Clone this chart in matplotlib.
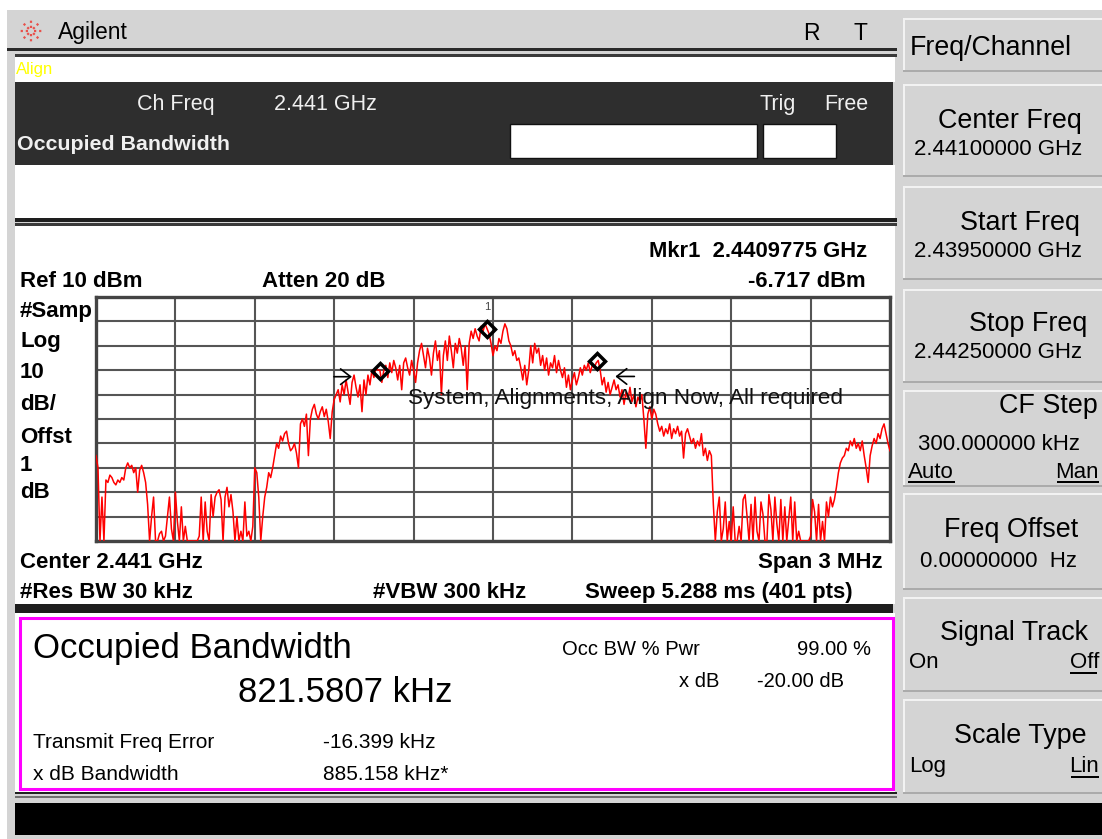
import numpy as np
import matplotlib
matplotlib.use("Agg")
import matplotlib.pyplot as plt
from matplotlib.patches import Rectangle
from matplotlib.transforms import ScaledTranslation

plt.rcParams['font.family'] = ['Liberation Sans', 'DejaVu Sans']

# ---------------- data ----------------
start_ghz = 2.4395
stop_ghz = 2.4425
ref_dbm = 10
db_per_div = 10
n_div = 10
mkr1_ghz = 2.4409775
obw_khz = 821.5807
tx_err_khz = -16.399
center_ghz = 2.441

level_dbm = [
    -55, -60, -90, -72, -90, -65, -66, -63, -64, -66,
    -67, -65, -66, -64, -65, -60, -58, -60, -59, -62,
    -60, -70, -61, -59, -62, -66, -75, -90, -80, -72,
    -90, -90, -87, -86, -90, -88, -80, -72, -85, -90,
    -70, -82, -90, -76, -90, -84, -90, -90, -90, -90,
    -90, -90, -88, -72, -90, -74, -86, -90, -71, -80,
    -72, -70, -69, -73, -90, -72, -68, -76, -71, -78,
    -90, -80, -90, -86, -90, -74, -88, -86, -90, -84,
    -60, -62, -72, -90, -80, -72, -68, -62, -64, -60,
    -55, -50, -52, -47, -49, -46, -45, -50, -53, -52,
    -50, -54, -60, -42, -40, -43, -38, -55, -40, -36,
    -34, -38, -40, -37, -35, -39, -36, -41, -48, -37,
    -32, -30, -28, -33, -26, -30, -24, -29, -34, -25,
    -22, -27, -31, -26, -37, -24, -30, -22, -26, -20,
    -23, -19, -20, -20, -25, -20, -18, -23, -17, -21,
    -16, -19, -24, -18, -28, -17, -15, -19, -22, -16,
    -20, -25, -17, -12, -9, -14, -19, -11, -15, -22,
    -13, -8, -16, -12, -30, -14, -8, -16, -6, -12,
    -19, -9, -13, -7, -11, -18, -10, -28, -9, -4,
    -7, -3, -6, -8, -2, -4, -1, -3, -5, -9,
    -14, -10, -12, -7, -9, -4, -1, -3, -8, -10,
    -14, -12, -16, -15, -19, -24, -18, -26, -20, -10,
    -17, -9, -13, -11, -18, -14, -20, -15, -22, -17,
    -19, -14, -21, -16, -20, -23, -19, -27, -22, -28,
    -24, -21, -26, -23, -19, -22, -18, -20, -17, -21,
    -18, -19, -17, -16, -20, -26, -23, -29, -25, -30,
    -27, -24, -28, -26, -31, -28, -34, -29, -32, -27,
    -33, -30, -35, -31, -33, -30, -40, -52, -38, -35,
    -40, -36, -38, -42, -45, -43, -47, -44, -46, -42,
    -48, -44, -46, -43, -47, -45, -56, -46, -44, -47,
    -50, -48, -52, -49, -51, -46, -55, -52, -57, -53,
    -55, -75, -90, -78, -72, -90, -85, -74, -90, -82,
    -90, -76, -90, -90, -84, -90, -73, -71, -80, -90,
    -75, -90, -72, -86, -90, -74, -79, -90, -90, -71,
    -77, -90, -72, -83, -90, -73, -90, -76, -90, -81,
    -72, -90, -74, -90, -86, -90, -90, -90, -90, -90,
    -88, -73, -78, -90, -75, -90, -82, -90, -74, -80,
    -72, -76, -73, -68, -62, -58, -56, -55, -52, -53,
    -49, -51, -48, -52, -50, -53, -49, -55, -60, -66,
    -55, -51, -48, -50, -46, -48, -44, -42, -46, -50,
    -53,
]

# ---------------- figure ----------------
W, H = 1102, 839
fig = plt.figure(figsize=(W / 100, H / 100), dpi=100)

ui = fig.add_axes([0, 0, 1, 1])
ui.set_xlim(0, W)
ui.set_ylim(H, 0)
ui.axis('off')
ui.set_zorder(-1)


def box(x0, y0, x1, y1, color, **kw):
    ui.add_patch(Rectangle((x0, y0), x1 - x0, y1 - y0, facecolor=color,
                           edgecolor=kw.pop('ec', 'none'), lw=kw.pop('lw', 0), **kw))


def T(x, y, s, size, weight='normal', ha='left', color='black', **kw):
    return fig.text(x / W, 1 - y / H, s, fontsize=size, fontweight=weight,
                    ha=ha, va='baseline', color=color, **kw)


GRAY = '#d4d4d4'
box(0, 0, W, H, 'white')
box(7, 10, W, H, GRAY)

# top bar lines and panels
box(7, 48, 897, 51, '#2a2a2a')
box(15, 54, 897, 57, '#3a3a3a')
box(15, 57, 895, 82, 'white')
box(15, 82, 893, 165, '#2e2e2e')
box(15, 165, 895, 218, 'white')
box(15, 218, 897, 222, '#1e1e1e')
box(15, 223, 897, 226, '#3a3a3a')
box(15, 226, 895, 604, 'white')
box(15, 604, 893, 613, '#1e1e1e')
box(15, 613, 895, 792, 'white')
ui.add_patch(Rectangle((19.5, 617.5), 873, 171, facecolor='none',
                       edgecolor='#ff00ff', lw=2.2))
box(15, 792, 897, 794, '#202020')
box(15, 796, 897, 798, '#707070')
box(15, 803, W, 835, 'black')

# boxes in dark panel
box(510, 124, 757, 158, 'white', ec='#111111', lw=1)
box(763, 124, 836, 158, 'white', ec='#111111', lw=1)

# soft keys
keys = [(18, 72), (84, 177), (186, 280), (289, 383), (390, 487),
        (493, 590), (597, 692), (699, 794)]
for y0, y1 in keys:
    box(903, y0, W, y1, GRAY)
    box(903, y0, W, y0 + 2, '#f2f2f2')
    box(903, y0, 905, y1, '#f2f2f2')
    box(903, y1 - 2, W, y1, '#ababab')

# Agilent logo (spark)
for ang in range(0, 360, 45):
    a = np.deg2rad(ang)
    ui.plot([31 + 3 * np.cos(a), 31 + 12 * np.cos(a)],
            [31 + 3 * np.sin(a), 31 + 12 * np.sin(a)],
            color='#e8504a', lw=1.6, ls=(0, (1, 1.3)), solid_capstyle='butt')

# ---------------- plot axes ----------------
ax = fig.add_axes([96 / W, 1 - 541 / H, 794 / W, 244 / H])
ax.set_zorder(1)
freq = np.linspace(start_ghz, stop_ghz, len(level_dbm))
bottom = ref_dbm - db_per_div * n_div
ax.set_xlim(start_ghz, stop_ghz)
ax.set_ylim(bottom, ref_dbm)
ax.set_xticks(np.linspace(start_ghz, stop_ghz, n_div + 1))
ax.set_yticks(np.linspace(bottom, ref_dbm, n_div + 1))
ax.grid(True, color='#555555', lw=1.5)
ax.set_axisbelow(True)
ax.tick_params(length=0, labelbottom=False, labelleft=False)
for sp in ax.spines.values():
    sp.set_linewidth(2.4)
    sp.set_color('#444444')
ax.set_facecolor('white')

ax.plot(freq, level_dbm, color='#ff0000', lw=1.1, zorder=3)

# markers
mk_level = np.interp(mkr1_ghz, freq, level_dbm)
ax.plot([mkr1_ghz], [mk_level], marker='D', ms=8, mew=2.5,
        mfc='none', mec='black', zorder=5, clip_on=False)
ax.annotate('1', xy=(mkr1_ghz, mk_level), xytext=(0, 22),
            textcoords='offset pixels', ha='center', va='center',
            fontsize=8, color='#444444', zorder=6)

occ_center = center_ghz + tx_err_khz * 1e-6
edges = [occ_center - obw_khz * 1e-6 / 2, occ_center + obw_khz * 1e-6 / 2]
edge_lv = np.interp(edges, freq, level_dbm)
ax.plot(edges, edge_lv, ls='none', marker='D', ms=8, mew=2.5,
        mfc='none', mec='black', zorder=5)


def off(dx, dy):
    return ax.transData + ScaledTranslation(dx / 100, dy / 100, fig.dpi_scale_trans)


arrow_kw = dict(arrowstyle='->,head_length=0.45,head_width=0.35', lw=1.2,
                color='black', mutation_scale=16, shrinkA=0, shrinkB=0)
ax.annotate('', xy=(edges[0], edge_lv[0]), xycoords=off(-28, -6),
            xytext=(edges[0], edge_lv[0]), textcoords=off(-46, -6),
            arrowprops=arrow_kw, zorder=6)
ax.annotate('', xy=(edges[1], edge_lv[1]), xycoords=off(18, -15),
            xytext=(edges[1], edge_lv[1]), textcoords=off(37, -15),
            arrowprops=arrow_kw, zorder=6)

# ---------------- texts ----------------
T(58, 39, 'Agilent', 16.5)
T(803, 40, 'R', 16.5)
T(853, 40, 'T', 16.5)
T(16, 74, 'Align', 12, color='#ffff00')

WH = '#f0f0f0'
T(137, 110, 'Ch Freq', 15.5, color=WH)
T(274, 110, '2.441 GHz', 15.5, color=WH)
T(760, 110, 'Trig', 15.5, color=WH)
T(824, 110, 'Free', 15.5, color=WH)
T(17, 150, 'Occupied Bandwidth', 15.4, weight='bold', color=WH)

# soft keys text
T(910, 55, 'Freq/Channel', 19.3)
T(1082, 128, 'Center Freq', 19.4, ha='right')
T(1082, 155, '2.44100000 GHz', 16, ha='right')
T(1080, 230, 'Start Freq', 19.4, ha='right')
T(1082, 257, '2.43950000 GHz', 16, ha='right')
T(1087, 331, 'Stop Freq', 19.4, ha='right')
T(1082, 358, '2.44250000 GHz', 16, ha='right')
T(1098, 413, 'CF Step', 19.4, ha='right')
T(918, 450, '300.000000 kHz', 16)
T(908, 478, 'Auto', 16)
T(1099, 478, 'Man', 16, ha='right')
T(1078, 537, 'Freq Offset', 19.4, ha='right')
T(920, 567, '0.00000000  Hz', 16)
T(1088, 640, 'Signal Track', 19.4, ha='right')
T(909, 668, 'On', 16)
T(1070, 668, 'Off', 16)
T(1087, 743, 'Scale Type', 19.4, ha='right')
T(909, 772, 'Log', 16)
T(1099, 772, 'Lin', 16, ha='right')
for x0, x1, y in [(908, 955, 481), (1057, 1099, 481), (1070, 1097, 672),
                  (1071, 1099, 776)]:
    box(x0, y, x1, y + 1.5, 'black')

# plot annotations
B = 'bold'
T(867, 257, 'Mkr1  2.4409775 GHz', 15.8, weight=B, ha='right')
T(866, 287, '-6.717 dBm', 15.8, weight=B, ha='right')
T(20, 287, 'Ref 10 dBm', 16, weight=B)
T(262, 287, 'Atten 20 dB', 16, weight=B)
for s, y in [('#Samp', 317), ('Log', 347), ('10', 378), ('dB/', 410),
             ('Offst', 443), ('1', 471), ('dB', 498)]:
    T(20, y, s, 16, weight=B)
T(20, 568, 'Center 2.441 GHz', 16, weight=B)
T(20, 598, '#Res BW 30 kHz', 16, weight=B)
T(373, 598, '#VBW 300 kHz', 16, weight=B)
T(883, 568, 'Span 3 MHz', 16, weight=B, ha='right')
T(585, 598, 'Sweep 5.288 ms (401 pts)', 16, weight=B)
T(408, 404, 'System, Alignments, Align Now, All required', 16.2, color='#111111')

# result box
T(33, 658, 'Occupied Bandwidth', 25)
T(238, 702, '821.5807 kHz', 25)
T(562, 655, 'Occ BW % Pwr', 14.5)
T(871, 655, '99.00 %', 14.5, ha='right')
T(719, 687, 'x dB', 14.5, ha='right')
T(757, 687, '-20.00 dB', 14.5)
T(33, 748, 'Transmit Freq Error', 15)
T(323, 748, '-16.399 kHz', 15)
T(33, 780, 'x dB Bandwidth', 15)
T(323, 780, '885.158 kHz*', 15)

fig.savefig('out.png', dpi=100)
